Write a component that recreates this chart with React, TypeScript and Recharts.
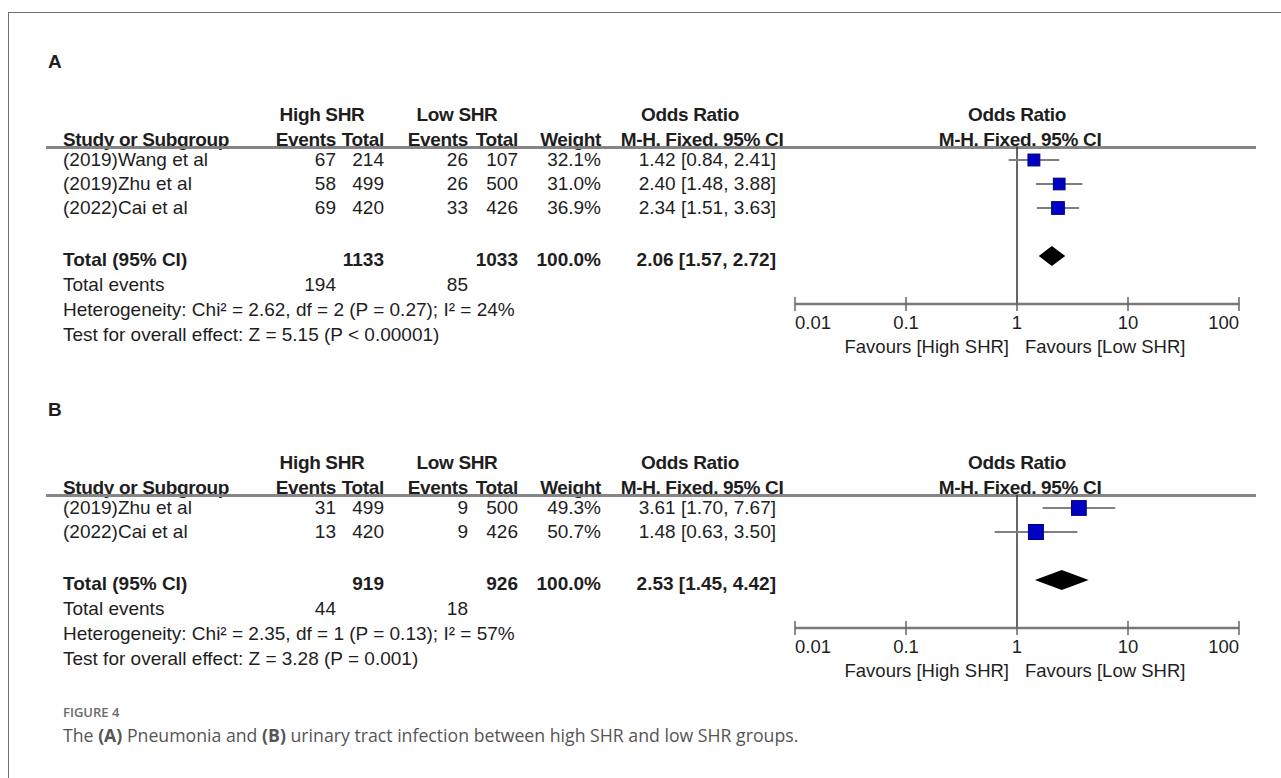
import React from "react";
import { ComposedChart, Scatter, Area, XAxis, YAxis, ReferenceLine, ErrorBar } from "recharts";

// (A) pneumonia
const studiesA = ["(2019)Wang et al", "(2019)Zhu et al", "(2022)Cai et al"];
const highEventsA = [67, 58, 69];
const highTotalA = [214, 499, 420];
const lowEventsA = [26, 26, 33];
const lowTotalA = [107, 500, 426];
const weightA = [32.1, 31.0, 36.9];
const orA = [1.42, 2.4, 2.34];
const ciLowA = [0.84, 1.48, 1.51];
const ciHighA = [2.41, 3.88, 3.63];
const pooledA = [2.06, 1.57, 2.72];
const totalsA = [1133, 1033];
const totalEventsA = [194, 85];
const statsA = [
  "Heterogeneity: Chi² = 2.62, df = 2 (P = 0.27); I² = 24%",
  "Test for overall effect: Z = 5.15 (P < 0.00001)",
];

// (B) urinary tract infection
const studiesB = ["(2019)Zhu et al", "(2022)Cai et al"];
const highEventsB = [31, 13];
const highTotalB = [499, 420];
const lowEventsB = [9, 9];
const lowTotalB = [500, 426];
const weightB = [49.3, 50.7];
const orB = [3.61, 1.48];
const ciLowB = [1.7, 0.63];
const ciHighB = [7.67, 3.5];
const pooledB = [2.53, 1.45, 4.42];
const totalsB = [919, 926];
const totalEventsB = [44, 18];
const statsB = [
  "Heterogeneity: Chi² = 2.35, df = 1 (P = 0.13); I² = 57%",
  "Test for overall effect: Z = 3.28 (P = 0.001)",
];

const orTicks = [0.01, 0.1, 1, 10, 100];
const orTickLabels = ["0.01", "0.1", "1", "10", "100"];

const ROW = 24;
const X0 = 795;
const X1 = 1239;
const PAD = 20;
const DIAMOND_HALF = 0.42;
const INK = "#1e1e1e";
const FONT = "'Liberation Sans', Arial, sans-serif";
const FS = 19;

type TxtProps = {
  x: number;
  y: number;
  align?: "left" | "right" | "center";
  bold?: boolean;
  size?: number;
  tight?: boolean;
  children: React.ReactNode;
};

function Txt({ x, y, align = "left", bold, size = FS, tight, children }: TxtProps) {
  const w = 400;
  const left = align === "left" ? x : align === "right" ? x - w : x - w / 2;
  return (
    <div
      style={{
        position: "absolute",
        left,
        top: y - 11,
        width: align === "left" ? undefined : w,
        lineHeight: "22px",
        fontSize: size,
        fontWeight: bold ? 700 : 400,
        letterSpacing: tight ? -0.35 : undefined,
        textAlign: align,
        whiteSpace: "nowrap",
        color: INK,
      }}
    >
      {children}
    </div>
  );
}

const fmtCi = (o: number, l: number, h: number) => `${o.toFixed(2)} [${l.toFixed(2)}, ${h.toFixed(2)}]`;

const renderTick = (props: any) => {
  const { x, y, index } = props;
  const anchor = index === 0 ? "start" : index === orTicks.length - 1 ? "end" : "middle";
  return (
    <g>
      <line x1={x} x2={x} y1={y - 7} y2={y + 7} stroke="#666" strokeWidth={1.5} />
      <text x={x} y={y + 25} textAnchor={anchor} fontSize={18.5} fill={INK} fontFamily={FONT}>
        {orTickLabels[index]}
      </text>
    </g>
  );
};

type PanelProps = {
  letter: string;
  rowTop: number;
  studies: string[];
  highEvents: number[];
  highTotal: number[];
  lowEvents: number[];
  lowTotal: number[];
  weights: number[];
  or: number[];
  ciLow: number[];
  ciHigh: number[];
  pooled: number[];
  totals: number[];
  totalEvents: number[];
  stats: string[];
};

function Panel(p: PanelProps) {
  const n = p.studies.length;
  const ruleY = p.rowTop - 13;
  const diamondY = p.rowTop + (n + 1) * ROW;
  const totalY = diamondY + 4;
  const axisY = diamondY + 48;
  const plotH = axisY - ruleY;

  const rows = p.studies.map((s, i) => ({
    x: p.or[i],
    y: i,
    err: [p.or[i] - p.ciLow[i], p.ciHigh[i] - p.or[i]],
    w: p.weights[i],
  }));
  const [pOr, pLo, pHi] = p.pooled;
  const diamond = [
    { x: pLo, band: [n + 1, n + 1] },
    { x: pOr, band: [n + 1 - DIAMOND_HALF, n + 1 + DIAMOND_HALF] },
    { x: pHi, band: [n + 1, n + 1] },
  ];

  const h1 = p.rowTop - 45;
  const h2 = p.rowTop - 20;

  return (
    <>
      <Txt x={48} y={p.rowTop - 98} bold>{p.letter}</Txt>

      <Txt x={322} y={h1} align="center" bold tight>High SHR</Txt>
      <Txt x={457} y={h1} align="center" bold tight>Low SHR</Txt>
      <Txt x={690} y={h1} align="center" bold tight>Odds Ratio</Txt>
      <Txt x={1017} y={h1} align="center" bold tight>Odds Ratio</Txt>

      <Txt x={63} y={h2} bold tight>Study or Subgroup</Txt>
      <Txt x={336} y={h2} align="right" bold tight>Events</Txt>
      <Txt x={384} y={h2} align="right" bold tight>Total</Txt>
      <Txt x={468} y={h2} align="right" bold tight>Events</Txt>
      <Txt x={518} y={h2} align="right" bold tight>Total</Txt>
      <Txt x={601} y={h2} align="right" bold tight>Weight</Txt>
      <Txt x={702} y={h2} align="center" bold tight>M-H, Fixed, 95% CI</Txt>
      <Txt x={1020} y={h2} align="center" bold tight>M-H, Fixed, 95% CI</Txt>

      <div style={{ position: "absolute", left: 46, top: ruleY - 1.5, width: 1210, height: 3, background: "#858585" }} />

      {p.studies.map((s, i) => {
        const y = p.rowTop + i * ROW;
        return (
          <React.Fragment key={s}>
            <Txt x={63} y={y}>{s}</Txt>
            <Txt x={336} y={y} align="right">{p.highEvents[i]}</Txt>
            <Txt x={384} y={y} align="right">{p.highTotal[i]}</Txt>
            <Txt x={468} y={y} align="right">{p.lowEvents[i]}</Txt>
            <Txt x={518} y={y} align="right">{p.lowTotal[i]}</Txt>
            <Txt x={601} y={y} align="right">{`${p.weights[i].toFixed(1)}%`}</Txt>
            <Txt x={776} y={y} align="right">{fmtCi(p.or[i], p.ciLow[i], p.ciHigh[i])}</Txt>
          </React.Fragment>
        );
      })}

      <Txt x={63} y={totalY} bold>Total (95% CI)</Txt>
      <Txt x={384} y={totalY} align="right" bold>{p.totals[0]}</Txt>
      <Txt x={518} y={totalY} align="right" bold>{p.totals[1]}</Txt>
      <Txt x={601} y={totalY} align="right" bold>100.0%</Txt>
      <Txt x={776} y={totalY} align="right" bold>{fmtCi(pOr, pLo, pHi)}</Txt>

      <Txt x={63} y={totalY + 25}>Total events</Txt>
      <Txt x={336} y={totalY + 25} align="right">{p.totalEvents[0]}</Txt>
      <Txt x={468} y={totalY + 25} align="right">{p.totalEvents[1]}</Txt>
      <Txt x={63} y={totalY + 50}>{p.stats[0]}</Txt>
      <Txt x={63} y={totalY + 75}>{p.stats[1]}</Txt>

      <Txt x={1009} y={axisY + 43} align="right" size={18.5}>Favours [High SHR]</Txt>
      <Txt x={1025} y={axisY + 43} size={18.5}>Favours [Low SHR]</Txt>

      <div style={{ position: "absolute", left: X0 - PAD, top: ruleY }}>
        <ComposedChart
          width={X1 - X0 + 2 * PAD}
          height={plotH + 40}
          margin={{ top: 0, right: PAD, bottom: 0, left: PAD }}
        >
          <XAxis
            type="number"
            dataKey="x"
            scale="log"
            domain={[0.01, 100]}
            ticks={orTicks}
            interval={0}
            allowDataOverflow
            tickSize={0}
            tickMargin={0}
            tickLine={false}
            tick={renderTick}
            axisLine={{ stroke: "#7a7a7a", strokeWidth: 2.5 }}
            height={40}
          />
          <YAxis
            type="number"
            dataKey="y"
            domain={[-(p.rowTop - ruleY) / ROW, (axisY - p.rowTop) / ROW]}
            reversed
            hide
            allowDataOverflow
          />
          <ReferenceLine x={1} stroke="#333" strokeWidth={1.5} />
          <Area
            data={diamond}
            dataKey="band"
            type="linear"
            fill="#000"
            fillOpacity={1}
            stroke="none"
            isAnimationActive={false}
          />
          <Scatter
            data={rows}
            isAnimationActive={false}
            shape={(sp: any) => {
              const s = Math.sqrt(sp.payload.w) * 2.1;
              return (
                <rect x={sp.cx - s / 2} y={sp.cy - s / 2} width={s} height={s} fill="#0000c4" stroke="#00007a" strokeWidth={1} />
              );
            }}
          >
            <ErrorBar dataKey="err" direction="x" width={0} stroke="#808080" strokeWidth={2} />
          </Scatter>
        </ComposedChart>
      </div>
    </>
  );
}

export default function App() {
  return (
    <div
      style={{
        position: "absolute",
        left: 0,
        top: 0,
        width: 1281,
        height: 778,
        background: "#fff",
        overflow: "hidden",
        fontFamily: FONT,
      }}
    >
      <div style={{ position: "absolute", left: 8, top: 12, width: 1400, height: 900, borderTop: "1.5px solid #707070", borderLeft: "1.5px solid #707070" }} />

      <Panel
        letter="A"
        rowTop={160}
        studies={studiesA}
        highEvents={highEventsA}
        highTotal={highTotalA}
        lowEvents={lowEventsA}
        lowTotal={lowTotalA}
        weights={weightA}
        or={orA}
        ciLow={ciLowA}
        ciHigh={ciHighA}
        pooled={pooledA}
        totals={totalsA}
        totalEvents={totalEventsA}
        stats={statsA}
      />
      <Panel
        letter="B"
        rowTop={508}
        studies={studiesB}
        highEvents={highEventsB}
        highTotal={highTotalB}
        lowEvents={lowEventsB}
        lowTotal={lowTotalB}
        weights={weightB}
        or={orB}
        ciLow={ciLowB}
        ciHigh={ciHighB}
        pooled={pooledB}
        totals={totalsB}
        totalEvents={totalEventsB}
        stats={statsB}
      />

      <div style={{ position: "absolute", left: 63, top: 703, fontFamily: "'Open Sans', sans-serif", fontSize: 13, fontWeight: 600, color: "#6a6a6a", lineHeight: "18px" }}>
        FIGURE 4
      </div>
      <div style={{ position: "absolute", left: 63, top: 723, fontFamily: "'Open Sans', sans-serif", fontSize: 17.7, color: "#555", lineHeight: "24px", whiteSpace: "nowrap" }}>
        The <b>(A)</b> Pneumonia and <b>(B)</b> urinary tract infection between high SHR and low SHR groups.
      </div>
    </div>
  );
}
